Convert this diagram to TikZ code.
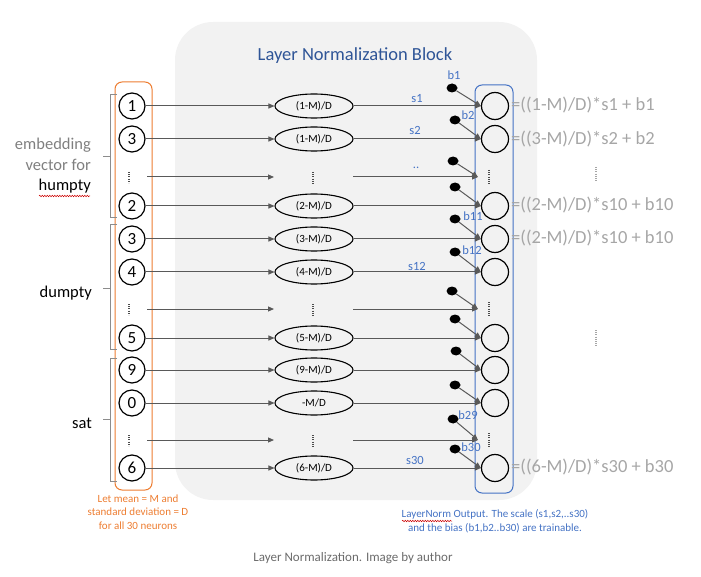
\documentclass[tikz,border=0pt]{standalone}
\usepackage{fontspec}
\setmainfont{Carlito}
\usetikzlibrary{arrows.meta,shapes.geometric,decorations.pathmorphing}

\definecolor{blockgray}{HTML}{F2F2F2}
\definecolor{linegray}{HTML}{595959}
\definecolor{bracegray}{HTML}{8C8C8C}
\definecolor{textgray}{HTML}{7F7F7F}
\definecolor{formgray}{HTML}{A6A6A6}
\definecolor{officeblue}{HTML}{4472C4}
\definecolor{titleblue}{HTML}{2F5597}
\definecolor{officeorange}{HTML}{ED7D31}
\definecolor{captiongray}{HTML}{6B6B6B}

\newcommand{\fs}[1]{\fontsize{#1}{#1}\selectfont}

\tikzset{
  neuron/.style={circle, draw=black, line width=1.2pt, minimum size=26pt, inner sep=0pt, font=\fs{17}},
  outneuron/.style={circle, draw=black, line width=1.2pt, minimum size=27pt, inner sep=0pt},
  normbox/.style={ellipse, draw=black, line width=1.1pt, minimum width=78pt, minimum height=24pt, inner sep=0pt, font=\fs{11}},
  biasdot/.style={ellipse, fill=black, minimum width=11pt, minimum height=9pt, inner sep=0pt},
  conn/.style={draw=linegray, line width=1pt, -{Triangle[length=6pt,width=5pt]}},
  vdots/.style={draw=black!70, line width=1.2pt, dash pattern=on 0.9pt off 1.3pt},
  fdots/.style={draw=formgray, line width=1.2pt, dash pattern=on 0.9pt off 1.3pt},
  lbl/.style={text=officeblue, font=\fs{12.5}},
  formula/.style={text=formgray, font=\fs{18.5}, anchor=west, inner sep=0pt},
  brace/.style={draw=bracegray, line width=1pt},
  squiggle/.style={draw=red!80!black, line width=0.5pt, decorate, decoration={snake, amplitude=0.7pt, segment length=2.5pt}}
}

\begin{document}
\begin{tikzpicture}[x=1pt,y=-1pt]
\useasboundingbox (0,0) rectangle (701,577);

% normalization block background
\fill[blockgray, rounded corners=38pt] (175,22) rectangle (537,500);
\node[text=titleblue, font=\fs{18.5}] (title) at (355,56) {Layer Normalization Block};

% input and output frames
\draw[officeorange, line width=1pt, rounded corners=7pt] (115,82) rectangle (152,490);
\draw[officeblue, line width=1pt, rounded corners=7pt] (475,85) rectangle (513,493);

% word brackets
\draw[brace] (117,95) -- (110,95) -- (110,218) -- (117,218) (110,157) -- (103,157);
\draw[brace] (117,225) -- (110,225) -- (110,349) -- (117,349) (110,288) -- (103,288);
\draw[brace] (117,358) -- (110,358) -- (110,481) -- (117,481) (110,419) -- (103,419);

\node[font=\fontsize{16.5}{20.5}\selectfont, align=right, anchor=east, inner sep=0pt] (wordA) at (91,166)
  {\textcolor{textgray}{embedding}\\\textcolor{textgray}{vector for}\\humpty};
\draw[squiggle] (39,196) -- (90,196);
\node[font=\fs{16.5}, anchor=east, inner sep=0pt] (wordB) at (92,293) {dumpty};
\node[font=\fs{16.5}, anchor=east, inner sep=0pt] (wordC) at (92,423) {sat};

% input neurons
\node[neuron] (L1) at (132,106) {1};
\node[neuron] (L2) at (132,139) {3};
\coordinate (L3) at (147,177);
\node[neuron] (L4) at (132,206) {2};
\node[neuron] (L5) at (132,239) {3};
\node[neuron] (L6) at (132,272) {4};
\coordinate (L7) at (147,309);
\node[neuron] (L8) at (132,338) {5};
\node[neuron] (L9) at (132,370) {9};
\node[neuron] (L10) at (132,403) {0};
\coordinate (L11) at (147,440);
\node[neuron] (L12) at (132,468) {6};

% normalized values
\node[normbox] (E1) at (314,106) {(1-M)/D};
\node[normbox] (E2) at (314,139) {(1-M)/D};
\coordinate (E3w) at (274,177); \coordinate (E3e) at (353,177);
\node[normbox] (E4) at (314,206) {(2-M)/D};
\node[normbox] (E5) at (314,239) {(3-M)/D};
\node[normbox] (E6) at (314,272) {(4-M)/D};
\coordinate (E7w) at (274,309); \coordinate (E7e) at (353,309);
\node[normbox] (E8) at (314,338) {(5-M)/D};
\node[normbox] (E9) at (314,370) {(9-M)/D};
\node[normbox] (E10) at (314,403) {-M/D};
\coordinate (E11w) at (274,440); \coordinate (E11e) at (353,440);
\node[normbox] (E12) at (314,468) {(6-M)/D};

% output neurons
\node[outneuron] (O1) at (495,106) {};
\node[outneuron] (O2) at (495,139) {};
\coordinate (O3) at (478,177);
\node[outneuron] (O4) at (495,206) {};
\node[outneuron] (O5) at (495,239) {};
\node[outneuron] (O6) at (495,272) {};
\coordinate (O7) at (478,309);
\node[outneuron] (O8) at (495,338) {};
\node[outneuron] (O9) at (495,370) {};
\node[outneuron] (O10) at (495,403) {};
\coordinate (O11) at (478,440);
\node[outneuron] (O12) at (495,468) {};

% bias terms
\node[biasdot] (B1) at (452,88) {};
\node[biasdot] (B2) at (455,120) {};
\node[biasdot] (B3) at (453,161) {};
\node[biasdot] (B4) at (455,187) {};
\node[biasdot] (B5) at (455,219) {};
\node[biasdot] (B6) at (455,252) {};
\node[biasdot] (B7) at (452,291) {};
\node[biasdot] (B8) at (455,319) {};
\node[biasdot] (B9) at (456,351) {};
\node[biasdot] (B10) at (455,385) {};
\node[biasdot] (B11) at (453,419) {};
\node[biasdot] (B12) at (455,449) {};

% vertical ellipses in the gap rows
\foreach \y in {177,309,440} {
  \draw[vdots] (129,\y-5) -- (129,\y+6);
  \draw[vdots] (313,\y-5) -- (313,\y+7);
  \draw[vdots] (489,\y-7) -- (489,\y+8);
}
\draw[fdots] (596,167) -- (596,181);
\draw[fdots] (596,330) -- (596,346);

% connectors: input -> normalized
\foreach \i in {1,2,4,5,6,8,9,10,12} { \draw[conn] (L\i) -- (E\i); }
\foreach \i in {3,7,11} { \draw[conn] (L\i) -- (E\i w); }
% connectors: normalized -> output
\foreach \i in {1,2,4,5,6,8,9,10,12} { \draw[conn] (E\i) -- (O\i); }
\foreach \i in {3,7,11} { \draw[conn] (E\i e) -- (O\i); }
% connectors: bias -> output
\foreach \i in {1,2,4,5,6,8,9,10,12} { \draw[conn] (B\i) -- (O\i.west); }
\foreach \i in {3,7,11} { \draw[conn] (B\i) -- (O\i); }

% scale and bias labels
\node[lbl] (tb1) at (454,75) {b1};
\node[lbl] (ts1) at (417,99) {s1};
\node[lbl] (tb2) at (468,115) {b2};
\node[lbl] (ts2) at (415,130) {s2};
\node[lbl] (tdd) at (416,168) {..};
\node[lbl] (tb11) at (473,216) {b11};
\node[lbl] (tb12) at (472,250) {b12};
\node[lbl] (ts12) at (417,266) {s12};
\node[lbl] (tb29) at (468,415) {b29};
\node[lbl] (tb30) at (471,447) {b30};
\node[lbl] (ts30) at (415,460) {s30};

% output expressions
\node[formula] (F1) at (511,105) {=((1-M)/D)*s1 + b1};
\node[formula] (F2) at (511,139) {=((3-M)/D)*s2 + b2};
\node[formula] (F4) at (511,205) {=((2-M)/D)*s10 + b10};
\node[formula] (F5) at (511,238) {=((2-M)/D)*s10 + b10};
\node[formula] (F12) at (511,467) {=((6-M)/D)*s30 + b30};

% notes
\node[text=officeorange, font=\fs{11}, align=center, inner sep=0pt] (noteL) at (138,512)
  {Let mean = M and\\[2.5pt]standard deviation = D\\[2.5pt]for all 30 neurons};
\node[text=officeblue, font=\fs{11}, align=center, inner sep=0pt] (noteR) at (495,521)
  {LayerNorm Output. The scale (s1,s2,..s30)\\[2.5pt]and the bias (b1,b2..b30) are trainable.};
\draw[squiggle] (402,521) -- (452,521);

% caption
\node[text=captiongray, font=\fs{13}] (caption) at (353,558) {Layer Normalization. Image by author};
\end{tikzpicture}
\end{document}
